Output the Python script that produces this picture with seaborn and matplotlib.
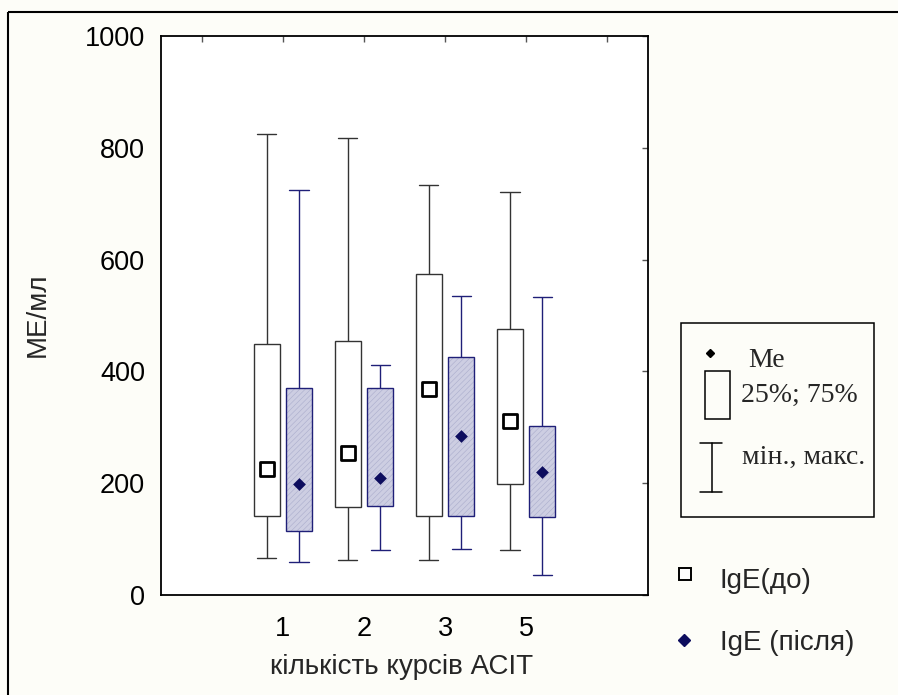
import matplotlib
matplotlib.use("Agg")
import matplotlib.pyplot as plt
from matplotlib.patches import Rectangle, PathPatch
import seaborn as sns
import pandas as pd

# ---------------- data ----------------
courses = ["1", "2", "3", "5"]
periods = ["до", "після"]

before_min = [67, 63, 62, 80]
before_q1 = [142, 157, 142, 198]
before_med = [225, 254, 368, 311]
before_q3 = [449, 454, 574, 476]
before_max = [824, 817, 734, 721]

after_min = [59, 80, 82, 36]
after_q1 = [114, 160, 142, 140]
after_med = [199, 209, 284, 220]
after_q3 = [371, 371, 425, 303]
after_max = [724, 412, 535, 533]

y_ticks = [0, 200, 400, 600, 800, 1000]
x_tick_labels = ["", "1", "2", "3", "5", ""]

# ---------------- build long-form tables ----------------
rows = []
med_rows = []
for period, mins, q1s, meds, q3s, maxs in [
    ("до", before_min, before_q1, before_med, before_q3, before_max),
    ("після", after_min, after_q1, after_med, after_q3, after_max),
]:
    for c, a, b, m, d, e in zip(courses, mins, q1s, meds, q3s, maxs):
        # five values -> linear percentiles give exactly min, q1, median, q3, max
        for v in (a, b, m, d, e):
            rows.append({"course": c, "period": period, "value": v})
        med_rows.append({"course": c, "period": period, "value": m})
df = pd.DataFrame(rows)
med_df = pd.DataFrame(med_rows)

# ---------------- style ----------------
sns.set_style("white")
plt.rcParams["font.family"] = ["Liberation Sans", "DejaVu Sans"]
plt.rcParams["hatch.linewidth"] = 0.45

BG = "#fdfdf8"
NAVY = "#1f1f78"
DARK = "#333333"
FILL_AFTER = "#cdcee2"
HATCH_COL = "#aeb0ce"

fig = plt.figure(figsize=(8.98, 6.95), dpi=100, facecolor=BG)
W, H = 898, 695
L, R, T, B = 161, 648, 36, 595
ax = fig.add_axes([L / W, 1 - B / H, (R - L) / W, (B - T) / H])
ax.set_facecolor("white")

common = dict(x="course", y="value", hue="period", order=courses,
              hue_order=periods, dodge=True, width=0.8, gap=0.2,
              whis=(0, 100), saturation=1, legend=False, ax=ax,
              medianprops=dict(linewidth=0))

# before boxes
n_l0 = len(ax.lines)
sns.boxplot(data=df[df.period == "до"], palette={"до": "white", "після": FILL_AFTER},
            linecolor=DARK, linewidth=1.0, **common)
before_lines = ax.lines[n_l0:]

# after boxes
n_p1, n_l1 = len(ax.patches), len(ax.lines)
sns.boxplot(data=df[df.period == "після"], palette={"до": "white", "після": FILL_AFTER},
            linecolor=NAVY, linewidth=1.0, **common)
after_patches = list(ax.patches[n_p1:])
after_lines = ax.lines[n_l1:]

# hatch the "after" boxes, keep a navy outline on top
for p in after_patches:
    p.set_edgecolor(HATCH_COL)
    p.set_linewidth(0)
    p.set_hatch("//////")
    ax.add_patch(PathPatch(p.get_path(), transform=p.get_transform(),
                           fill=False, edgecolor=NAVY, linewidth=1.0,
                           zorder=p.get_zorder() + 0.1))

# whisker caps narrower than the boxes
CAPW = 0.235
for ln in list(before_lines) + list(after_lines):
    xd, yd = ln.get_xdata(), ln.get_ydata()
    if len(xd) == 2 and yd[0] == yd[1] and ln.get_linewidth() > 0:
        cx = (xd[0] + xd[1]) / 2
        ln.set_xdata([cx - CAPW / 2, cx + CAPW / 2])

# median markers
sns.stripplot(data=med_df[med_df.period == "до"], x="course", y="value", hue="period",
              order=courses, hue_order=periods, dodge=True, jitter=False,
              palette={"до": "white", "після": "white"}, marker="s", size=9.5,
              edgecolor="black", linewidth=2.0, legend=False, zorder=5, ax=ax)
sns.stripplot(data=med_df[med_df.period == "після"], x="course", y="value", hue="period",
              order=courses, hue_order=periods, dodge=True, jitter=False,
              palette={"до": "#0d0d5e", "після": "#0d0d5e"}, marker="D", size=6.5,
              linewidth=0, legend=False, zorder=5, ax=ax)

# ---------------- axes ----------------
ax.set_xlim(-1.5, 4.5)
ax.set_ylim(0, 1000)
ax.set_xticks(range(-1, 5))
ax.set_xticklabels(x_tick_labels)
ax.set_yticks(y_ticks)
ax.set_yticklabels([str(v) for v in y_ticks])
ax.tick_params(direction="in", length=4.5, width=1, color="#555555",
               top=True, right=True, labelsize=19.5, labelcolor="black")
ax.tick_params(axis="y", pad=11.5)
ax.tick_params(axis="x", pad=15.0)
for s in ax.spines.values():
    s.set_visible(True)
    s.set_color("black")
    s.set_linewidth(1.3)

ax.set_xlabel("кількість курсів АСІТ", fontsize=20)
ax.set_ylabel("МЕ/мл", fontsize=20)
ax.xaxis.label.set_verticalalignment("baseline")
ax.yaxis.label.set_verticalalignment("baseline")
ax.xaxis.set_label_coords((401.7 - L) / (R - L), (B - 674) / (B - T))
ax.yaxis.set_label_coords((45 - L) / (R - L), (B - 315) / (B - T))

# ---------------- overlay (legend keys, frame) in pixel coordinates ----------------
ov = fig.add_axes([0, 0, 1, 1], zorder=10)
ov.set_xlim(0, W)
ov.set_ylim(H, 0)
ov.axis("off")
ov.patch.set_alpha(0)

# figure frame (left and top visible)
ov.plot([8, 8], [12, H + 2], color="black", lw=1.5, solid_capstyle="butt", clip_on=False)
ov.plot([7.5, W + 2], [12, 12], color="black", lw=1.5, solid_capstyle="butt", clip_on=False)

# explanatory box
ov.add_patch(Rectangle((681, 323), 193, 194, fill=False, edgecolor="black", lw=1.1))
ov.plot([710], [352.5], marker="D", ms=3.6, color="black", lw=0)
ov.add_patch(Rectangle((705, 371), 25, 48, fill=False, edgecolor="black", lw=1.1))
ov.plot([711.7, 711.7], [443, 492], color="black", lw=1.1)
ov.plot([700, 722], [443, 443], color="black", lw=1.1)
ov.plot([700, 722], [492, 492], color="black", lw=1.1)
serif = ["Liberation Serif", "DejaVu Serif"]
ov.text(748, 367, "Ме", family=serif, fontsize=20, va="baseline", ha="left")
ov.text(741, 401.5, "25%; 75%", family=serif, fontsize=20, va="baseline", ha="left")
ov.text(742, 464, "мін., макс.", family=serif, fontsize=20, va="baseline", ha="left")

# series legend
ov.plot([685], [573.5], marker="s", ms=8.5, mfc="white", mec="black", mew=1.4, lw=0)
ov.text(720, 588.3, "IgE(до)", fontsize=20, va="baseline", ha="left")
ov.plot([683.5], [639.5], marker="D", ms=6.0, color="#0d0d5e", lw=0)
ov.text(720, 650, "IgE (після)", fontsize=20, va="baseline", ha="left")

fig.savefig("out.png", dpi=100, facecolor=BG)
